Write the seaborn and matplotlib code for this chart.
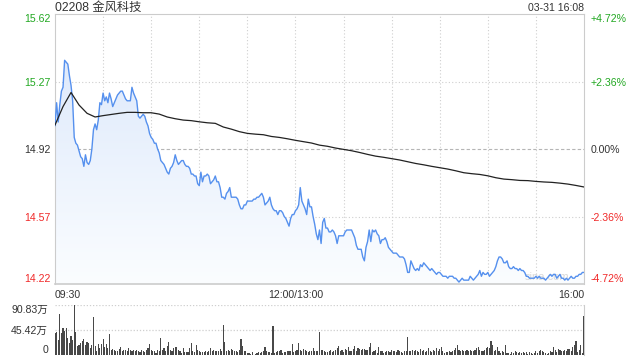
import numpy as np
import matplotlib
matplotlib.use("Agg")
import matplotlib.pyplot as plt
from matplotlib.colors import LinearSegmentedColormap
import seaborn as sns

sns.set_theme(style="white")
plt.rcParams['font.family'] = ['Liberation Sans', 'Noto Sans CJK SC', 'DejaVu Sans']

# ---------------- data ----------------
title_text = "02208 金风科技"
timestamp = "03-31 16:08"
watermark = "sina.com"
prev_close = 14.92
price_ticks = [15.62, 15.27, 14.92, 14.57, 14.22]
pct_labels = ["+4.72%", "+2.36%", "0.00%", "-2.36%", "-4.72%"]
time_labels = ["09:30", "12:00/13:00", "16:00"]
time_label_minutes = [0, 150, 330]
grid_minutes = [30, 60, 90, 120, 150, 180, 210, 240, 270, 300]
vol_ticks = [90.83, 45.42, 0]
vol_tick_labels = ["90.83万", "45.42万", "0"]

# one value per trading minute (09:30 .. 16:00, lunch break removed)
price = [
    15.04, 15.16, 15.06, 15.15, 15.22, 15.24, 15.38, 15.37, 15.36, 15.30,
    15.25, 15.17, 14.98, 14.95, 14.94, 14.91, 14.88, 14.87, 14.83, 14.89,
    14.85, 14.84, 14.86, 14.92, 15.02, 15.05, 15.02, 15.07, 15.16, 15.15,
    15.21, 15.17, 15.19, 15.16, 15.21, 15.18, 15.14, 15.16, 15.18, 15.20,
    15.21, 15.22, 15.22, 15.20, 15.18, 15.17, 15.17, 15.17, 15.24, 15.21,
    15.19, 15.17, 15.09, 15.08, 15.09, 15.10, 15.09, 15.06, 15.04, 15.00,
    14.98, 14.97, 14.95, 14.95, 14.92, 14.90, 14.86, 14.85, 14.84, 14.82,
    14.80, 14.79, 14.82, 14.83, 14.85, 14.89, 14.86, 14.84, 14.85, 14.86,
    14.86, 14.84, 14.83, 14.83, 14.82, 14.79, 14.79, 14.78, 14.78, 14.74,
    14.73, 14.80, 14.75, 14.78, 14.78, 14.79, 14.78, 14.74, 14.75, 14.76,
    14.78, 14.75, 14.75, 14.72, 14.67, 14.67, 14.66, 14.69, 14.70, 14.72,
    14.67, 14.67, 14.67, 14.67, 14.66, 14.63, 14.61, 14.61, 14.63, 14.63,
    14.65, 14.65, 14.65, 14.65, 14.66, 14.66, 14.67, 14.67, 14.68, 14.69,
    14.67, 14.63, 14.64, 14.65, 14.67, 14.63, 14.61, 14.60, 14.60, 14.58,
    14.60, 14.60, 14.59, 14.57, 14.56, 14.54, 14.52, 14.56, 14.58, 14.58,
    14.60, 14.61, 14.63, 14.72, 14.65, 14.63, 14.61, 14.58, 14.66, 14.62,
    14.62, 14.57, 14.53, 14.48, 14.45, 14.50, 14.43, 14.54, 14.56, 14.51,
    14.51, 14.49, 14.49, 14.50, 14.49, 14.47, 14.43, 14.47, 14.47, 14.47,
    14.47, 14.49, 14.50, 14.50, 14.50, 14.50, 14.48, 14.46, 14.42, 14.40,
    14.40, 14.40, 14.36, 14.34, 14.41, 14.44, 14.50, 14.44, 14.50, 14.49,
    14.50, 14.48, 14.47, 14.43, 14.45, 14.45, 14.46, 14.44, 14.41, 14.40,
    14.39, 14.38, 14.38, 14.38, 14.37, 14.36, 14.36, 14.36, 14.35, 14.32,
    14.28, 14.28, 14.34, 14.32, 14.30, 14.29, 14.30, 14.29, 14.32, 14.31,
    14.33, 14.32, 14.31, 14.30, 14.29, 14.30, 14.29, 14.28, 14.27, 14.28,
    14.28, 14.27, 14.26, 14.26, 14.26, 14.25, 14.26, 14.26, 14.26, 14.25,
    14.25, 14.24, 14.23, 14.24, 14.25, 14.24, 14.24, 14.24, 14.24, 14.26,
    14.25, 14.24, 14.25, 14.26, 14.27, 14.29, 14.26, 14.28, 14.27, 14.27,
    14.28, 14.26, 14.27, 14.28, 14.29, 14.31, 14.34, 14.36, 14.36, 14.35,
    14.33, 14.33, 14.34, 14.31, 14.30, 14.30, 14.31, 14.30, 14.30, 14.29,
    14.30, 14.29, 14.29, 14.28, 14.26, 14.26, 14.25, 14.25, 14.25, 14.25,
    14.26, 14.25, 14.26, 14.25, 14.25, 14.25, 14.24, 14.25, 14.26, 14.27,
    14.26, 14.27, 14.27, 14.25, 14.26, 14.27, 14.25, 14.25, 14.24, 14.25,
    14.24, 14.25, 14.26, 14.25, 14.25, 14.26, 14.26, 14.27, 14.27, 14.28,
    14.28,
]

# average price, one value every 5 minutes
avg_step = 5
avg_price = [
    15.044, 15.140, 15.213, 15.148, 15.105, 15.086, 15.093, 15.099, 15.105, 15.110,
    15.110, 15.108, 15.108, 15.101, 15.086, 15.077, 15.070, 15.067, 15.061, 15.056,
    15.053, 15.034, 15.023, 15.010, 15.001, 14.997, 14.994, 14.985, 14.980, 14.973,
    14.965, 14.958, 14.951, 14.940, 14.934, 14.925, 14.918, 14.911, 14.902, 14.892,
    14.883, 14.877, 14.870, 14.863, 14.854, 14.845, 14.838, 14.830, 14.823, 14.816,
    14.807, 14.797, 14.792, 14.788, 14.781, 14.771, 14.764, 14.761, 14.757, 14.756,
    14.752, 14.749, 14.747, 14.743, 14.738, 14.731, 14.723,
]

# volume per minute, in 万 shares
volume = [
    40.0, 41.2, 27.9, 74.5, 40.0, 49.0, 43.0, 49.0, 30.9, 21.8,
    33.9, 27.9, 90.8, 41.8, 17.0, 18.8, 21.8, 26.0, 29.1, 18.8,
    23.6, 21.8, 12.7, 17.6, 69.0, 15.7, 6.7, 20.0, 12.7, 20.0,
    29.7, 13.9, 20.0, 12.7, 38.1, 9.7, 11.5, 9.1, 6.7, 7.9,
    11.5, 13.9, 6.7, 9.1, 9.1, 7.9,
    12.7, 9.7, 7.9, 9.7, 6.7, 9.7, 7.9, 5.4, 9.7, 7.9,
    4.8, 9.7, 12.7, 20.0, 9.7, 7.9, 6.7, 3.6, 9.7, 7.9,
    30.9, 9.7, 12.7, 6.7, 15.7, 23.6, 9.7, 7.9, 12.7, 13.9,
    13.9, 9.7, 6.7, 3.6, 12.7, 4.8, 4.8, 4.8, 12.7, 21.8,
    6.7, 4.8, 18.8, 9.7, 6.7, 5.4,
    5.4, 4.8, 6.7, 4.8, 6.7, 12.7, 7.9, 9.7, 7.9, 6.7,
    6.7, 11.5, 6.7, 55.1, 23.6, 6.7, 9.7, 6.7, 11.5, 9.7,
    7.9, 7.9, 5.4, 9.7, 29.7, 15.7, 7.9, 7.9, 3.6, 3.6, 2.0,
    5.4, 0.6, 1.8, 3.6, 4.8, 3.6, 4.8, 6.7, 13.9, 6.7,
    4.8, 5.4, 3.6, 52.7, 3.6, 4.8, 6.7, 6.7, 9.7, 3.6,
    5.4, 4.8, 7.9, 6.7, 6.7, 20.6, 4.8, 7.9, 9.7, 21.8,
    9.7, 6.7, 11.5, 9.7, 6.7, 5.4, 6.7, 7.9, 12.7, 6.7,
    7.9, 7.9, 41.8, 9.7,
    8.5, 6.7, 5.4, 5.4, 6.7, 9.7, 5.4, 6.7, 9.7, 12.7,
    15.7, 6.7, 9.7, 5.4, 11.5, 9.7, 13.9, 6.7, 7.9, 11.5,
    15.7, 6.7, 12.7, 11.5, 9.7, 11.5, 11.5, 9.7, 9.7, 13.9,
    21.8,
    5.4, 6.7, 9.7, 3.6, 13.9, 7.9, 6.7, 3.6, 5.4, 7.9,
    6.7, 5.4, 9.7, 6.7, 7.9, 5.4, 9.7, 6.7, 5.4, 3.6,
    6.7, 6.7, 32.7, 7.9, 7.9, 9.7, 6.7, 9.7, 6.7, 5.4,
    11.5, 7.9, 9.7, 5.4, 7.9, 12.7, 6.7, 5.4, 9.7, 6.7,
    12.7, 7.9, 11.5, 13.9, 6.7, 3.6, 5.4, 4.8, 7.9, 5.4,
    6.7, 9.7, 12.7, 18.8, 9.7, 6.7, 9.7, 6.7, 7.9, 9.7,
    6.7, 9.7, 7.9, 6.7, 9.7, 12.7, 13.9, 9.7, 6.7, 6.7,
    9.7, 12.7, 13.9, 12.7, 24.8, 18.8, 6.7, 9.7, 13.9, 6.7,
    3.6, 6.7, 4.8, 17.6, 3.6, 3.6, 1.8, 4.8, 3.6, 6.7,
    5.4, 3.6, 4.8, 3.6, 4.8, 3.6, 4.8, 1.8, 4.8, 3.6,
    1.8, 3.6, 6.7, 3.6, 7.9, 9.7, 6.7, 5.4, 3.6, 1.8,
    3.6, 6.7, 5.4, 13.9, 9.7, 5.4, 11.5, 9.7, 6.7, 7.9,
    9.7, 6.7, 11.5, 11.5, 6.7, 13.9, 17.6, 24.8, 5.4, 9.7,
    18.8, 3.6, 70.2,
]

minutes = np.arange(len(price))
avg_minutes = np.arange(len(avg_price)) * avg_step
vol_minutes = np.arange(len(volume))

# ---------------- styling ----------------
GREEN = "#22A822"
RED = "#F02828"
DARK = "#333333"
GRID = "#cfcfcf"
SPINE = "#cccccc"
LINE = "#5590EE"
FS = 7.6

W, H = 640, 360
fig = plt.figure(figsize=(6.4, 3.6), dpi=100)
fig.patch.set_facecolor("white")

x0, x1 = 55, 584
ax = fig.add_axes([x0 / W, 1 - 284 / H, (x1 - x0) / W, 270 / H])
axv = fig.add_axes([x0 / W, 1 - 355 / H, (x1 - x0) / W, 50 / H])

ymin, ymax = price_ticks[-1], price_ticks[0]
ax.set_xlim(0, 330)
ax.set_ylim(ymin, ymax)

# gradient fill under price line
poly = ax.fill_between(minutes, price, ymin, color="none", linewidth=0)
cmap = LinearSegmentedColormap.from_list("g", ["#fbfdff", "#d9e6fb"])
grad = np.linspace(0, 1, 256).reshape(-1, 1)
img = ax.imshow(grad, extent=[0, 330, ymin, ymax], origin="lower",
                aspect="auto", cmap=cmap, zorder=1, interpolation="bilinear")
img.set_clip_path(poly.get_paths()[0], transform=ax.transData)

# grid lines
for v in [price_ticks[1], price_ticks[3]]:
    ax.axhline(v, color=GRID, lw=0.8, ls=(0, (1, 2)), zorder=0.5)
ax.axhline(prev_close, color="#b5b5b5", lw=0.8, ls=(0, (3, 2)), zorder=0.5)
for m in grid_minutes:
    ax.axvline(m, color=GRID, lw=0.8, ls=(0, (1, 2)), zorder=0.5)

sns.lineplot(x=minutes, y=price, ax=ax, color=LINE, linewidth=1.0, zorder=4)
sns.lineplot(x=avg_minutes, y=avg_price, ax=ax, color="#222222", linewidth=0.9, zorder=5)

# faint watermark near the lower right corner of the price panel
ax.text(0.93, 0.025, watermark, transform=ax.transAxes, color="#d8d8d8",
        fontsize=8, ha="center", va="center", zorder=2)

for s in ["top", "left", "right", "bottom"]:
    ax.spines[s].set_color(SPINE)
    ax.spines[s].set_linewidth(0.8)
ax.spines["bottom"].set_linewidth(1.2)

# left price ticks
ax.set_yticks(price_ticks)
ax.set_yticklabels([f"{v:.2f}" for v in price_ticks])
ax.tick_params(axis="y", length=0, pad=3, labelsize=FS)
lcolors = [GREEN, GREEN, DARK, RED, RED]
for lab, c in zip(ax.get_yticklabels(), lcolors):
    lab.set_color(c)
ax.get_yticklabels()[0].set_va("top")
ax.get_yticklabels()[-1].set_va("bottom")

# right percentage ticks
ax2 = ax.twinx()
ax2.set_ylim(ymin, ymax)
ax2.set_yticks(price_ticks)
ax2.set_yticklabels(pct_labels)
ax2.tick_params(axis="y", length=0, pad=4.5, labelsize=FS)
for lab, c in zip(ax2.get_yticklabels(), lcolors):
    lab.set_color(c)
ax2.get_yticklabels()[0].set_va("top")
ax2.get_yticklabels()[-1].set_va("bottom")
for s in ax2.spines.values():
    s.set_visible(False)
ax2.grid(False)

# x labels
ax.set_xticks(time_label_minutes)
ax.set_xticklabels(time_labels)
ax.tick_params(axis="x", length=0, pad=4, labelsize=FS, colors=DARK)
has = ["left", "center", "right"]
for lab, h in zip(ax.get_xticklabels(), has):
    lab.set_ha(h)
ax.set_xlabel("")
ax.set_ylabel("")
ax2.set_ylabel("")

# title texts
fig.text(x0 / W, 1 - 8 / H, title_text, ha="left", va="center", fontsize=8.8, color=DARK)
fig.text(x1 / W, 1 - 8 / H, timestamp, ha="right", va="center", fontsize=7.6, color=DARK)

# volume panel
axv.set_xlim(0, 330)
axv.set_ylim(0, vol_ticks[0])
axv.bar(vol_minutes, volume, width=0.7, color="#484848", linewidth=0, zorder=3)
for v in vol_ticks[:2]:
    axv.axhline(v, color=GRID, lw=0.9, ls=(0, (1, 1.5)), zorder=1)
for s in ["top", "left", "bottom"]:
    axv.spines[s].set_visible(False)
axv.spines["right"].set_color(SPINE)
axv.spines["right"].set_linewidth(0.8)
axv.set_xticks([])
axv.set_yticks(vol_ticks)
axv.set_yticklabels(vol_tick_labels)
axv.tick_params(axis="y", length=0, pad=5, labelsize=FS, colors=DARK)
axv.get_yticklabels()[0].set_va("top")
axv.get_yticklabels()[-1].set_va("bottom")
axv.set_facecolor("none")

fig.savefig("out.png", dpi=100)
